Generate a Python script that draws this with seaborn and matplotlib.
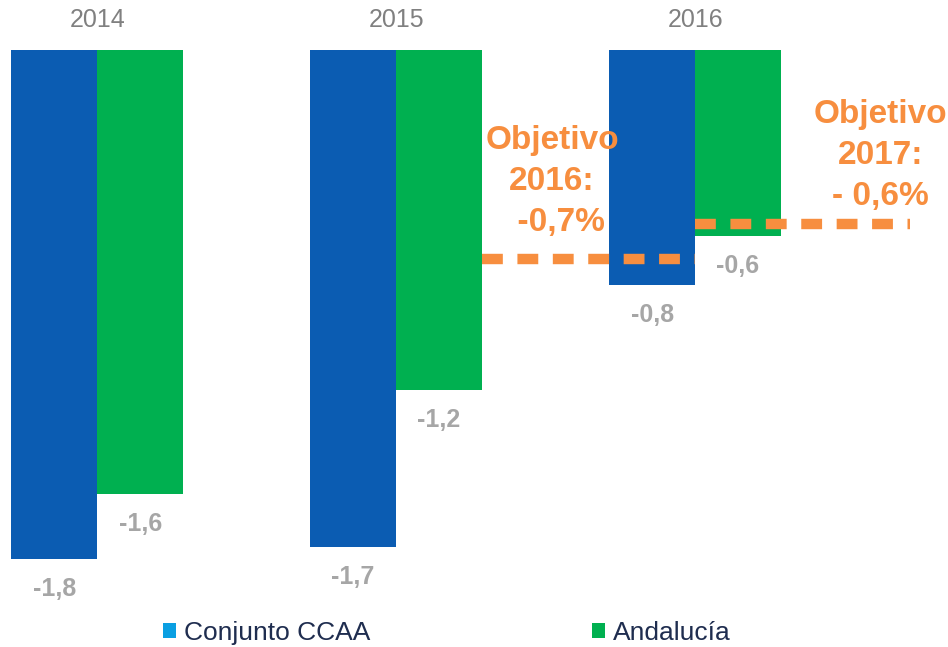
import matplotlib
matplotlib.use("Agg")
import matplotlib.pyplot as plt
from matplotlib.patches import Patch
import seaborn as sns
import pandas as pd

# ---- data ----
years = ["2014", "2015", "2016"]
series = ["Conjunto CCAA", "Andalucía"]
conjunto_vals = [-1.80, -1.756, -0.83]
andalucia_vals = [-1.569, -1.201, -0.657]
conjunto_labels = ["-1,8", "-1,7", "-0,8"]
andalucia_labels = ["-1,6", "-1,2", "-0,6"]
target_vals = [-0.74, -0.615]
target_texts = ["Objetivo\n2016:\n  -0,7%", "Objetivo\n2017:\n- 0,6%"]

BLUE = "#0B5CB2"
GREEN = "#00B050"
LEG_BLUE = "#0A9FE2"
ORANGE = "#F78E3F"
GRAY = "#A6A6A6"
YEAR_GRAY = "#808080"
NAVY = "#1F2D4F"

df = pd.DataFrame({
    "year": years * 2,
    "series": [series[0]] * 3 + [series[1]] * 3,
    "value": conjunto_vals + andalucia_vals,
})

sns.set_theme(style="white")
plt.rcParams["font.family"] = ["Liberation Sans", "DejaVu Sans"]

fig = plt.figure(figsize=(9.48, 6.47), dpi=100)
ax = fig.add_axes([0, 0, 1, 1])

W = 0.575
sns.barplot(data=df, x="year", y="value", hue="series", order=years,
            hue_order=series, palette=[BLUE, GREEN], width=W, gap=0,
            saturation=1, edgecolor="none", linewidth=0, ax=ax, legend=False)

ax.set_xlim(-0.325, 2.846)
ax.set_ylim(-2.110, 0.177)
ax.axis("off")

half = W / 2
# value labels
for i in range(3):
    for vals, labs, off in ((conjunto_vals, conjunto_labels, -W / 4),
                            (andalucia_vals, andalucia_labels, W / 4)):
        ax.annotate(labs[i], (i + off, vals[i]), xytext=(0, -21.6),
                    textcoords="offset points", ha="center", va="center",
                    fontsize=18, fontweight="bold", color=GRAY)
    # year labels
    ax.annotate(years[i], (i, 0), xytext=(0, 21.6), textcoords="offset points",
                ha="center", va="center", fontsize=18, color=YEAR_GRAY)

# target lines
ax.hlines(target_vals[0], 1 + half, 2.0, colors=ORANGE, linewidth=7.5,
          linestyles=(0, (2.0, 1.4)), capstyle="butt")
ax.hlines(target_vals[1], 2.0, 2.719, colors=ORANGE, linewidth=7.5,
          linestyles=(0, (2.0, 1.4)), capstyle="butt")

ax.text(1.522, -0.466, target_texts[0], ha="center", va="center",
        multialignment="center", fontsize=24, fontweight="bold",
        color=ORANGE, linespacing=1.42)
ax.text(2.619, -0.374, target_texts[1], ha="center", va="center",
        multialignment="center", fontsize=24, fontweight="bold",
        color=ORANGE, linespacing=1.42)

handles = [Patch(facecolor=LEG_BLUE, edgecolor="none"),
           Patch(facecolor=GREEN, edgecolor="none")]
fig.legend(handles, series, loc="center left",
           bbox_to_anchor=(163 / 948, 1 - 633 / 647), ncol=2, frameon=False,
           fontsize=19, handlelength=0.5, handleheight=0.5,
           handletextpad=0.3, columnspacing=8.4, borderpad=0,
           borderaxespad=0, labelcolor=NAVY)

fig.savefig("out.png", dpi=100)
